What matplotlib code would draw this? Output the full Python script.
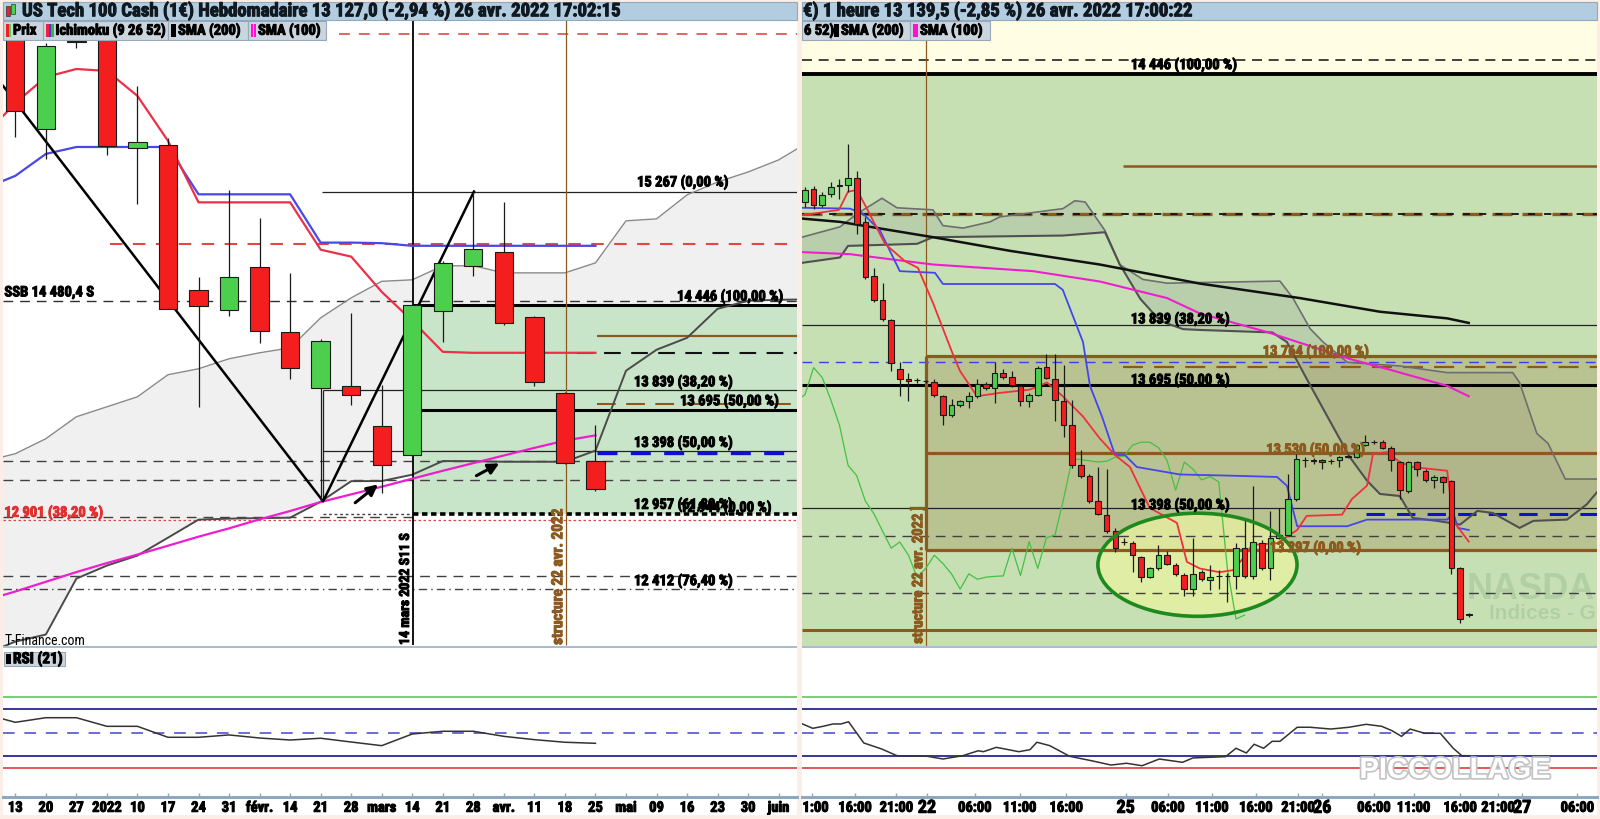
import numpy as np
import matplotlib
matplotlib.use("Agg")
import matplotlib.pyplot as plt
from matplotlib.patches import Rectangle, Ellipse
import matplotlib.patheffects as pe
from matplotlib import font_manager

# condensed bold face like the trading platform; first installed one wins
_names = {f.name for f in font_manager.fontManager.ttflist}
_cands = ['Liberation Sans Narrow', 'Roboto Condensed', 'DejaVu Sans Condensed',
          'Open Sans Condensed', 'Noto Sans Condensed', 'Arial Narrow']
NARROW = [n for n in _cands if n in _names]
plt.rcParams['font.family'] = NARROW[:1] + ['DejaVu Sans']
FS = 1.0 if NARROW else 0.8


def fb(color='black', w=0.7):
    # a touch of stroke so the condensed face reads as heavy as the original
    return [pe.withStroke(linewidth=w, foreground=color)]


# ---------------- weekly chart (left panel) ----------------
week_labels = ['13', '20', '27', '2022', '10', '17', '24', '31', 'févr.', '14', '21', '28',
               'mars', '14', '21', '28', 'avr.', '11', '18', '25', 'mai', '09', '16', '23',
               '30', 'juin']
w_open = [16480, 15719, 16354, 16460, 15580, 15601, 14557, 14413, 14722, 14254,
          13850, 13863, 13577, 13366, 14405, 14729, 14830, 14362, 13815, 13323]
w_high = [16520, 16340, 16450, 16500, 16028, 15651, 14654, 15277, 15075, 14679,
          14202, 14393, 13875, 14460, 14770, 15262, 15195, 14370, 13820, 13582]
w_low = [15661, 15505, 16301, 15530, 15177, 14420, 13711, 14373, 14179, 13914,
         13035, 13732, 13093, 13360, 14182, 14657, 14302, 13866, 13305, 13110]
w_close = [15845, 16316, 16342, 15593, 15626, 14424, 14444, 14651, 14262, 13997,
           14192, 13800, 13300, 14446, 14753, 14854, 14321, 13894, 13311, 13127]

# indicators, weeks -1 .. 19
w_ind_weeks = list(range(-1, 20))
w_tenkan = [15672, 15905, 16092, 16150, 16136, 15956, 15632, 15189, 15189, 15189, 15189,
            14848, 14798, 14544, 14336, 14112, 14105, 14105, 14105, 14105, 14105]
w_kijun = [15290, 15380, 15538, 15588, 15588, 15588, 15588, 15247, 15247, 15247, 15247,
           14899, 14899, 14895, 14876, 14876, 14876, 14876, 14876, 14876, 14876]
w_sma100 = [12320, 12385, 12455, 12525, 12590, 12651, 12715, 12780, 12840, 12905, 12965,
            13030, 13085, 13140, 13198, 13255, 13310, 13365, 13420, 13472, 13510]
w_rsi = [65.8, 58.8, 62.7, 62.7, 55.4, 55.4, 46.1, 46.1, 48.1, 45.5, 43.8,
         45.3, 42.1, 39.0, 48.9, 51.2, 51.2, 46.9, 44.1, 41.9, 41.0]

# ichimoku cloud, weeks -1 .. 26
cloud_weeks = list(range(-1, 27))
cloud_up = [13323, 13378, 13486, 13644, 13716, 13788, 13947, 13990, 14062, 14105,
            14141, 14357, 14501, 14620, 14631, 14732, 14732, 14681, 14681, 14681,
            14753, 15056, 15070, 15243, 15336, 15408, 15495, 15627]
cloud_lo = [11934, 12024, 12075, 12478, 12572, 12644, 12773, 12903, 12910, 12914,
            12917, 13032, 13180, 13181, 13227, 13325, 13324, 13320, 13320, 13320,
            13400, 13976, 14127, 14213, 14422, 14480, 14487, 14490]

# drawn swing lines (week, price)
swing_w = [-0.4, 10.08, 15.02]
swing_p = [16028, 13035, 15267]

# ---------------- hourly chart (right panel) ----------------
hour_labels = ['11:00', '16:00', '21:00', '22', '06:00', '11:00', '16:00', '25', '06:00',
               '11:00', '16:00', '21:00', '26', '06:00', '11:00', '16:00', '21:00', '27', '06:00']
hour_ticks = [0.8, 5.8, 10.6, 14.15, 19.7, 24.9, 30.3, 37.2, 42.1, 47.2, 52.3, 57.2,
              60.0, 66.0, 70.6, 76.0, 80.4, 83.2, 89.6]

h_open = [14137, 14168, 14130, 14156, 14176, 14178, 14195, 14089, 13958, 13900,
          13852, 13734, 13710, 13707, 13705, 13702, 13668, 13623, 13647, 13656,
          13668, 13697, 13688, 13725, 13715, 13693, 13656, 13672, 13738, 13710,
          13656, 13598, 13501, 13476, 13415, 13382, 13342, 13317, 13313, 13280,
          13231, 13252, 13284, 13261, 13236, 13202, 13243, 13223, 13234, 13233,
          13235, 13301, 13235, 13313, 13252, 13326, 13333, 13420, 13514, 13512,
          13514, 13511, 13513, 13522, 13521, 13550, 13557, 13557, 13544, 13509,
          13439, 13509, 13488, 13466, 13473, 13463, 13252, 13142]
h_high = [14173, 14175, 14160, 14186, 14193, 14276, 14211, 14101, 13978, 13941,
          13855, 13751, 13725, 13712, 13708, 13710, 13670, 13661, 13660, 13678,
          13710, 13702, 13751, 13734, 13729, 13696, 13675, 13740, 13770, 13770,
          13743, 13660, 13538, 13480, 13497, 13492, 13350, 13325, 13318, 13283,
          13255, 13309, 13294, 13265, 13240, 13325, 13248, 13261, 13248, 13240,
          13313, 13370, 13452, 13321, 13391, 13398, 13480, 13528, 13520, 13518,
          13517, 13516, 13524, 13526, 13553, 13574, 13562, 13562, 13548, 13512,
          13512, 13512, 13492, 13477, 13476, 13466, 13255, 13144]
h_low = [14125, 14120, 14125, 14150, 14144, 14162, 14060, 13950, 13895, 13850,
         13729, 13668, 13656, 13700, 13700, 13665, 13598, 13618, 13642, 13640,
         13664, 13684, 13652, 13710, 13690, 13644, 13642, 13668, 13710, 13607,
         13570, 13495, 13470, 13410, 13380, 13338, 13292, 13308, 13243, 13219,
         13228, 13249, 13260, 13235, 13186, 13186, 13222, 13199, 13202, 13170,
         13202, 13230, 13226, 13248, 13223, 13322, 13330, 13415, 13497, 13505,
         13492, 13505, 13497, 13518, 13518, 13548, 13552, 13540, 13488, 13420,
         13435, 13476, 13462, 13447, 13435, 13239, 13121, 13136]
h_close = [14166, 14130, 14154, 14174, 14177, 14195, 14084, 13956, 13900, 13854,
           13748, 13710, 13705, 13706, 13704, 13670, 13623, 13647, 13656, 13668,
           13697, 13688, 13725, 13715, 13696, 13656, 13672, 13737, 13713, 13659,
           13598, 13501, 13476, 13415, 13384, 13342, 13301, 13316, 13284, 13231,
           13252, 13284, 13264, 13239, 13202, 13239, 13226, 13231, 13233, 13234,
           13301, 13235, 13317, 13252, 13326, 13333, 13420, 13517, 13515, 13512,
           13509, 13511, 13521, 13523, 13550, 13557, 13557, 13544, 13513, 13441,
           13509, 13492, 13466, 13474, 13461, 13252, 13130, 13139.5]

tenkan_k = [-0.35, 3.94, 4.99, 6.03, 7.08, 9.28, 11.6, 13.1, 14.85, 17.05, 17.98, 19.95,
            22.6, 26.1, 28.07, 29.9, 32.25, 34.2, 35.96, 37.7, 40.0, 43.15, 44.3, 45.8,
            48.1, 49.65, 50.8, 51.86, 54.76, 57.1, 58.2, 62.3, 63.46, 65.2, 65.9, 67.5,
            69.0, 70.5, 74.5, 75.2, 77.0]
tenkan_p = [14105, 14118, 14162, 14166, 14125, 14036, 13994, 13978, 13893, 13775, 13729,
            13668, 13676, 13684, 13701, 13668, 13619, 13566, 13526, 13497, 13398, 13362,
            13268, 13252, 13243, 13248, 13276, 13309, 13313, 13345, 13379, 13382, 13420,
            13452, 13529, 13533, 13509, 13497, 13488, 13367, 13317]
kijun_k = [-0.35, 5.22, 6.73, 8.7, 11.0, 15.08, 16.0, 29.0, 29.9, 32.25, 33.06, 34.45,
           35.96, 37.1, 38.5, 43.5, 49.65, 54.76, 55.9, 57.1, 62.9, 65.2, 74.5, 75.2,
           75.75, 77.0]
kijun_p = [14123, 14121, 14109, 14068, 13970, 13966, 13939, 13939, 13925, 13799, 13693,
           13619, 13526, 13526, 13497, 13479, 13476, 13473, 13452, 13354, 13354, 13370,
           13370, 13386, 13350, 13345]
sma200_k = [-0.35, 4.06, 14.85, 23.8, 34.2, 45.8, 57.4, 66.7, 74.5, 77.0]
sma200_p = [14097, 14089, 14052, 14019, 13986, 13940, 13905, 13872, 13856, 13845]
sma100_k = [-0.35, 5.22, 14.85, 26.45, 34.2, 42.0, 45.8, 53.6, 63.2, 67.5, 74.5, 77.0]
sma100_p = [14016, 14011, 13986, 13970, 13945, 13905, 13868, 13823, 13758, 13734, 13693, 13668]
cloudA_k = [-0.35, 4.06, 6.15, 8.93, 10.67, 14.85, 16.0, 18.33, 21.46, 22.6, 29.93, 31.3,
            32.5, 34.8, 36.5, 39.2, 42.0, 55.1, 56.6, 58.6, 60.1, 62.9, 69.0, 74.5, 82.1,
            82.9, 84.9, 86.2, 88.2, 91.9]
cloudA_p = [14052, 14077, 14110, 14146, 14123, 14118, 14080, 14074, 14089, 14101, 14121,
            14140, 14137, 14068, 13986, 13950, 13941, 13946, 13905, 13831, 13799, 13750,
            13741, 13725, 13725, 13701, 13578, 13554, 13468, 13468]
cloudB_k = [-0.35, 4.06, 4.99, 13.0, 14.85, 29.93, 34.8, 36.5, 38.9, 41.2, 43.85, 45.8,
            54.2, 55.9, 58.2, 60.6, 63.2, 65.2, 66.7, 69.0, 70.5, 73.3, 76.0, 78.0, 79.8,
            82.9, 84.5, 88.4, 90.7, 92.0]
cloudB_p = [13990, 14003, 14031, 14036, 14052, 14056, 14064, 13987, 13903, 13850, 13830,
            13828, 13822, 13799, 13710, 13619, 13521, 13464, 13432, 13427, 13374, 13367,
            13358, 13391, 13386, 13350, 13367, 13370, 13407, 13439]
rsi_k = [-0.29, 0.9, 2.09, 3.25, 4.18, 5.05, 6.82, 8.89, 10.67, 14.2, 16.0, 18.3, 20.1,
         20.7, 22.2, 24.8, 26.1, 26.9, 28.4, 30.7, 33.2, 35.5, 37.3, 39.1, 41.1, 43.8,
         45.0, 48.8, 50.0, 51.2, 52.1, 53.2, 54.2, 55.1, 57.1, 58.6, 61.0, 63.1, 65.1,
         66.9, 68.1, 69.2, 70.2, 71.9, 73.7, 75.2, 76.2, 77.0]
rsi_v = [57.4, 53.7, 55.4, 57.4, 57.4, 59.3, 41.3, 36.2, 30.5, 30.0, 27.7, 30.5, 34.7,
         33.9, 37.6, 33.9, 35.6, 41.9, 39.0, 30.0, 26.3, 22.6, 24.1, 22.0, 27.7, 24.9,
         28.6, 29.7, 36.8, 32.8, 40.2, 36.8, 42.7, 42.7, 54.6, 54.6, 53.1, 54.6, 57.1,
         55.4, 51.7, 46.9, 53.1, 49.5, 49.5, 36.8, 30.5, 30.5]
rsi_levels = [80, 70, 50, 30, 20]

# ---------------- layout helpers ----------------
W, H = 1600, 820
BROWN = '#8C5A1E'
fig = plt.figure(figsize=(16, 8.2), dpi=100, facecolor='#FCEEE6')


def box(x0, y0, x1, y1):
    return [x0 / W, 1 - y1 / H, (x1 - x0) / W, (y1 - y0) / H]


def frect(x0, y0, x1, y1, z=-5, **kw):
    fig.patches.append(Rectangle((x0 / W, 1 - y1 / H), (x1 - x0) / W, (y1 - y0) / H,
                                 transform=fig.transFigure, zorder=z, **kw))


def ftext(x, y, s, **kw):
    kw.setdefault('fontsize', 10.5 * FS)
    kw.setdefault('weight', 'bold')
    kw.setdefault('va', 'center')
    kw.setdefault('zorder', 8)
    kw.setdefault('path_effects', fb(kw.get('color', 'black')))
    fig.text(x / W, 1 - y / H, s, **kw)


def candles(ax, x, o, h, l, c, width):
    o, h, l, c = map(np.asarray, (o, h, l, c))
    ax.vlines(x, l, h, color='#1A1A1A', lw=0.9, zorder=6)
    up = c >= o
    cols = np.where(up, '#4CCF4C', '#F41E1E')
    ax.bar(x, np.maximum(np.abs(c - o), 1), width, np.minimum(o, c), color=cols,
           edgecolor='#1A1A1A', linewidth=0.8, zorder=7)


def legend_box(x0, x1, label, sw):
    frect(x0, 22, x1, 40.5, z=5, fc='#CAD5DE', ec='#98A8B6', lw=0.8)
    for i, col in enumerate(sw):
        frect(x0 + 3 + i * 2.5, 25, x0 + 5.5 + i * 2.5, 37.5, z=6, fc=col, ec='none')
    ftext(x0 + 5 + len(sw) * 2.5, 31.5, label)


def x_strip(x0, x1, xlim, ticks, labels, big=()):
    ax = fig.add_axes(box(x0, 798, x1, 816))
    ax.set_xlim(xlim)
    ax.set_ylim(0, 1)
    ax.set_axis_off()
    ax.axhline(1, color='#8EA9BF', lw=2.2, clip_on=False)
    ax.vlines(ticks, 1.0, 1.25, color='#8EA9BF', lw=1, clip_on=False)
    for t, lab in zip(ticks, labels):
        ax.text(t, 0.4, lab, ha='center', va='center', weight='bold',
                fontsize=(13 if lab in big else 10.5) * FS, clip_on=True,
                path_effects=fb())


def rsi_axes(x0, x1, xlim):
    ax = fig.add_axes(box(x0, 648.5, x1, 798))
    ax.set_axis_off()
    ax.set_xlim(xlim)
    ax.set_ylim(-4.5, 122.2)
    ax.axhline(rsi_levels[0], color='#5CC85C', lw=1.2)
    ax.axhline(rsi_levels[1], color='#000080', lw=1.1)
    ax.axhline(rsi_levels[2], color='#6B6BD6', lw=1.4, dashes=(6, 5))
    ax.axhline(rsi_levels[3], color='#000080', lw=1.1)
    ax.axhline(rsi_levels[4], color='#E03A3A', lw=1.2)
    return ax


LX0, LX1 = 3, 797
RX0, RX1 = 802, 1597
for x0, x1 in [(LX0, LX1), (RX0, RX1)]:
    frect(x0, 3, x1, 816, fc='white', ec='none')
    frect(x0, 3, x1, 20.5, z=5, fc='#B3CDE0', ec='#8FAAC0', lw=0.8)
    frect(x0, 646.5, x1, 648.5, z=5, fc='#A7BED0', ec='none')

# titles and legends
frect(6, 7, 10, 17, z=6, fc='#F02020', ec='#333333', lw=0.5)
frect(11, 5, 15, 15, z=6, fc='#4CCF4C', ec='#333333', lw=0.5)
ftext(22, 12, 'US Tech 100 Cash (1€) Hebdomadaire 13 127,0 (-2,94 %) 26 avr. 2022 17:02:15',
      fontsize=13.5 * FS, color='#101820')
ftext(803, 12, '€) 1 heure 13 139,5 (-2,85 %) 26 avr. 2022 17:00:22', fontsize=13.5 * FS,
      color='#101820')
legend_box(3, 43, 'Prix', ['#F02020', '#4CCF4C'])
legend_box(43, 168, 'Ichimoku (9 26 52)', ['#F02040', '#3C3CE0', '#40B040'])
legend_box(168, 248, 'SMA (200)', ['black', 'black'])
legend_box(248, 326, 'SMA (100)', ['#FF10D0', '#FF10D0'])
frect(802, 22, 831, 40.5, z=5, fc='#CAD5DE', ec='#98A8B6', lw=0.8)
ftext(804, 31.5, '6 52)')
legend_box(831, 910, 'SMA (200)', ['black', 'black'])
legend_box(910, 990, 'SMA (100)', ['#FF10D0', '#FF10D0'])

# ---------------- left main ----------------
axL = fig.add_axes(box(LX0, 21, LX1, 646.5))
axL.set_axis_off()
axL.set_xlim(-0.403, 25.6)
axL.set_ylim(11996, 16503)
XL = axL.get_xlim()[1]
x_left = axL.get_xlim()[0]

axL.fill_between(cloud_weeks, cloud_up, cloud_lo, color='#F0F0F0', lw=0, zorder=1)
axL.add_patch(Rectangle((13.03, 12944), XL - 13.03, 14446 - 12944, fc='#C9E5C9',
                        ec='none', zorder=1.5))
axL.plot(cloud_weeks, cloud_up, color='#8A8A8A', lw=1.0, zorder=3)
axL.plot(cloud_weeks, cloud_lo, color='#4A4A4A', lw=1.4, zorder=3)

# horizontal levels
axL.hlines(16404, 10.6, XL, color='#E05858', lw=1.3, linestyles=(0, (6, 5)), zorder=2)
axL.hlines(14886, 3.1, XL, color='#E04848', lw=1.5, linestyles=(0, (6, 5)), zorder=2)
axL.hlines(14480, x_left, XL, color='#303030', lw=1.0, linestyles=(0, (7, 5)), zorder=2)
axL.hlines(15267, 10.05, XL, color='#222222', lw=0.9, zorder=2)
axL.hlines([14446, 13695], 13.03, XL, color='black', lw=2.2, zorder=2.5)
axL.hlines(14225, 19.05, XL, color=BROWN, lw=1.6, zorder=2)
axL.hlines(14105, 18.4, XL, color='#111111', lw=1.5, linestyles=(0, (8, 5)), zorder=2)
axL.hlines([13839, 13398], 10.08, XL, color='#222222', lw=0.9, zorder=2)
axL.hlines(13733, 19.05, XL, color=BROWN, lw=1.5, linestyles=(0, (9, 5)), zorder=2)
axL.hlines(13385, 19.05, XL, color='#1010D0', lw=2.4, linestyles=(0, (6, 4)), zorder=2.5)
axL.hlines([13323, 13186, 12500], x_left, XL, color='#404040', lw=1.0,
           linestyles=(0, (7, 5)), zorder=2)
axL.hlines(12920, x_left, 13.03, color='#404040', lw=1.0, linestyles=(0, (7, 5)), zorder=2)
axL.hlines(12944, 10.08, 13.03, color='#404040', lw=1.0, linestyles=(0, (2, 2)), zorder=2)
axL.hlines(12944, 13.03, XL, color='black', lw=2.6, linestyles=(0, (1.5, 1)), zorder=2.5)
axL.hlines(12901, x_left, XL, color='#E04848', lw=0.9, linestyles=(0, (2, 2)), zorder=2)
axL.hlines(12406, x_left, XL, color='#404040', lw=1.0, linestyles=(0, (6, 3, 1, 3)), zorder=2)

axL.vlines(13.03, 11996, 16503, color='black', lw=1.3, zorder=3)
axL.vlines(18.04, 11996, 16503, color=BROWN, lw=0.9, zorder=3)
axL.vlines(10.08, 13035, 13839, color='#222222', lw=0.9, zorder=3)

axL.plot(w_ind_weeks, w_sma100, color='#EE1ECF', lw=1.6, zorder=4)
axL.plot(w_ind_weeks, w_kijun, color='#4848E8', lw=1.6, zorder=4)
axL.plot(w_ind_weeks, w_tenkan, color='#EC3048', lw=1.6, zorder=4)
axL.plot(swing_w, swing_p, color='black', lw=1.8, zorder=5)

candles(axL, np.arange(len(w_open)), w_open, w_high, w_low, w_close, 0.6)

for (a, b) in [((11.06, 13012), (11.95, 13169)), ((15.02, 13210), (15.93, 13318))]:
    axL.annotate('', xy=b, xytext=a, zorder=8,
                 arrowprops=dict(arrowstyle='-|>', color='black', lw=2.2,
                                 mutation_scale=16))

fib_kw = dict(fontsize=10.5 * FS, weight='bold', va='center', zorder=9)
axL.text(20.36, 15334, '15 267 (0,00 %)', path_effects=fb(), **fib_kw)
axL.text(21.67, 14511, '14 446 (100,00 %)', path_effects=fb(), **fib_kw)
axL.text(20.26, 13894, '13 839 (38,20 %)', path_effects=fb(), **fib_kw)
axL.text(21.77, 13757, '13 695 (50,00 %)', path_effects=fb(), **fib_kw)
axL.text(20.26, 13457, '13 398 (50,00 %)', path_effects=fb(), **fib_kw)
axL.text(20.26, 13011, '12 957 (61,80 %)', path_effects=fb(), **fib_kw)
axL.text(21.77, 12989, '12 944 (0,00 %)', path_effects=fb(), **fib_kw)
axL.text(20.26, 12461, '12 412 (76,40 %)', path_effects=fb(), **fib_kw)
axL.text(-0.36, 14540, 'SSB 14 480,4 S', path_effects=fb(), **fib_kw)
axL.text(-0.36, 12954, '12 901 (38,20 %)', color='#E03030', path_effects=fb('#E03030'),
         **fib_kw)
axL.text(-0.36, 12039, 'T-Finance.com', fontsize=10 * FS, va='center', clip_on=True,
         zorder=9)
axL.text(12.76, 12000, '14 mars 2022 S11 S', rotation=90, ha='center', va='bottom',
         fontsize=10 * FS, weight='bold', zorder=9, path_effects=fb())
axL.text(17.78, 12000, 'structure 22 avr. 2022', rotation=90, ha='center', va='bottom',
         fontsize=11 * FS, weight='bold', color=BROWN, zorder=9, path_effects=fb(BROWN))

axLr = rsi_axes(LX0, LX1, axL.get_xlim())
axLr.plot(w_ind_weeks, w_rsi, color='#333333', lw=1.1)
frect(4, 653, 65, 667, z=5, fc='#CAD5DE', ec='#98A8B6', lw=0.8)
frect(6, 655, 11, 665, z=6, fc='black', ec='none')
ftext(13, 660, 'RSI (21)', fontsize=11 * FS)
x_strip(LX0, LX1, axL.get_xlim(), list(range(len(week_labels))), week_labels)

# ---------------- right main ----------------
axR = fig.add_axes(box(RX0, 21, RX1, 646.5))
axR.set_axis_off()
axR.set_xlim(-0.348, 91.88)
axR.set_ylim(13066, 14576.5)
XR = axR.get_xlim()[1]
xr0 = axR.get_xlim()[0]

axR.axhspan(14446, 14600, color='#FFFDE3', lw=0, zorder=0)
axR.axhspan(13000, 14446, color='#C6E0B4', lw=0, zorder=0)
axR.fill(np.r_[cloudA_k, cloudB_k[::-1]], np.r_[cloudA_p, cloudB_p[::-1]],
         color='#7A7A7A', alpha=0.17, lw=0, zorder=1)
axR.add_patch(Rectangle((14.04, 13297), XR - 14.04, 13764 - 13297, fc='#9A7A3A',
                        alpha=0.28, ec='none', zorder=1.2))
axR.add_patch(Ellipse((45.53, 13261), 23.1, 249, fc='#EAF3A0', alpha=0.75,
                      ec='none', zorder=1.3))
axR.add_patch(Ellipse((45.53, 13261), 23.1, 249, fc='none', ec='#1E8A1E',
                      lw=2.6, zorder=8))

axR.hlines(14480, xr0, XR, color='#222222', lw=1.2, linestyles=(0, (6, 4)), zorder=2)
axR.hlines([14446], xr0, XR, color='black', lw=2.8, zorder=2.5)
axR.hlines(14225, 36.9, XR, color=BROWN, lw=1.8, zorder=2)
axR.hlines(14108, xr0, XR, color=BROWN, lw=2.4, linestyles=(0, (6, 3)), zorder=2)
axR.hlines(14108, xr0, XR, color='#111111', lw=1.3, linestyles=(3, (4, 5)), zorder=2.1)
axR.hlines([13839, 13398], xr0, XR, color='#222222', lw=0.9, zorder=2)
axR.hlines(13750, xr0, XR, color='#3C3CF0', lw=1.0, linestyles=(0, (7, 5)), zorder=2)
axR.hlines(13738, 36.9, XR, color=BROWN, lw=1.6, linestyles=(0, (9, 5)), zorder=2)
axR.hlines(13695, xr0, XR, color='black', lw=2.2, zorder=2.5)
axR.hlines([13764, 13530, 13297], 14.04, XR, color=BROWN, lw=2.3, zorder=2.5)
axR.vlines(14.04, 13297, 13764, color=BROWN, lw=2.3, zorder=2.5)
axR.hlines(13383, 65.1, XR, color='#1010D0', lw=2.2, linestyles=(0, (6, 4)), zorder=2.5)
axR.hlines([13331, 13193], xr0, XR, color='#404040', lw=1.0, linestyles=(0, (7, 5)),
           zorder=2)
axR.hlines(13103, xr0, XR, color=BROWN, lw=2.2, zorder=2.5)
axR.vlines(14.04, 13000, 14600, color=BROWN, lw=0.9, zorder=3)

axR.plot(cloudA_k, cloudA_p, color='#6E6E6E', lw=1.2, zorder=3)
axR.plot(cloudB_k, cloudB_p, color='#505050', lw=1.5, zorder=3)
axR.plot(sma200_k, sma200_p, color='#111111', lw=1.8, zorder=4)
axR.plot(sma100_k, sma100_p, color='#EE1ECF', lw=1.5, zorder=4)
bars = np.arange(len(h_close))
axR.plot(bars - 26, h_close, color='#44C044', lw=0.9, zorder=4)
axR.plot(kijun_k, kijun_p, color='#4545EE', lw=1.3, zorder=4)
axR.plot(tenkan_k, tenkan_p, color='#F0303C', lw=1.3, zorder=4)

candles(axR, bars, h_open, h_high, h_low, h_close, 0.65)

axR.text(37.8, 14468, '14 446 (100,00 %)', path_effects=fb(), **fib_kw)
axR.text(37.8, 13854, '13 839 (38,20 %)', path_effects=fb(), **fib_kw)
axR.text(37.8, 13707, '13 695 (50,00 %)', path_effects=fb(), **fib_kw)
axR.text(37.8, 13405, '13 398 (50,00 %)', path_effects=fb(), **fib_kw)
axR.text(53.1, 13776, '13 764 (100,00 %)', color=BROWN, path_effects=fb(BROWN), **fib_kw)
axR.text(53.5, 13539, '13 530 (50,00 %)', color=BROWN, path_effects=fb(BROWN), **fib_kw)
axR.text(53.9, 13302, '13 297 (0,00 %)', color=BROWN, path_effects=fb(BROWN), **fib_kw)
axR.text(13.1, 13070, 'structure 22 avr. 2022 ]', rotation=90, ha='center', va='bottom',
         fontsize=10.5 * FS, weight='bold', color=BROWN, zorder=9, path_effects=fb(BROWN))
axR.text(91.7, 13180, 'NASDA', fontsize=26, weight='bold', color='#B2CFA4',
         va='baseline', ha='right', family=['Liberation Sans', 'DejaVu Sans'], zorder=1.4)
axR.text(91.7, 13168, 'Indices - G', fontsize=15, weight='bold', color='#B2CFA4',
         va='top', ha='right', family=['Liberation Sans', 'DejaVu Sans'], zorder=1.4)

axRr = rsi_axes(RX0, RX1, axR.get_xlim())
axRr.plot(rsi_k, rsi_v, color='#333333', lw=1.1)
x_strip(RX0, RX1, axR.get_xlim(), hour_ticks, hour_labels, big=('22', '25', '26', '27'))

ftext(1455, 771, 'PICCOLLAGE', fontsize=21, color='white', ha='center',
      family=['Liberation Sans', 'DejaVu Sans'],
      path_effects=[pe.withStroke(linewidth=2.5, foreground='#C4C4C4')])

fig.savefig('out.png', dpi=100, facecolor=fig.get_facecolor())
